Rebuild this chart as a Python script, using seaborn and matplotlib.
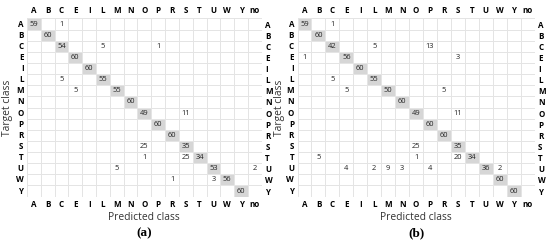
import numpy as np
import pandas as pd
import matplotlib
matplotlib.use("Agg")
import matplotlib.pyplot as plt
from matplotlib.colors import ListedColormap
import seaborn as sns

# class labels
target_classes = ["A", "B", "C", "E", "I", "L", "M", "N", "O", "P", "R", "S", "T", "U", "W", "Y"]
predicted_classes = target_classes + ["no"]

# non-zero counts per target row: {predicted: count}
counts_a = {
    "A": {"A": 59, "C": 1},
    "B": {"B": 60},
    "C": {"C": 54, "L": 5, "P": 1},
    "E": {"E": 60},
    "I": {"I": 60},
    "L": {"C": 5, "L": 55},
    "M": {"E": 5, "M": 55},
    "N": {"N": 60},
    "O": {"O": 49, "S": 11},
    "P": {"P": 60},
    "R": {"R": 60},
    "S": {"O": 25, "S": 35},
    "T": {"O": 1, "S": 25, "T": 34},
    "U": {"M": 5, "U": 53, "no": 2},
    "W": {"R": 1, "U": 3, "W": 56},
    "Y": {"Y": 60},
}
counts_b = {
    "A": {"A": 59, "C": 1},
    "B": {"B": 60},
    "C": {"C": 42, "L": 5, "P": 13},
    "E": {"A": 1, "E": 56, "S": 3},
    "I": {"I": 60},
    "L": {"C": 5, "L": 55},
    "M": {"E": 5, "M": 50, "R": 5},
    "N": {"N": 60},
    "O": {"O": 49, "S": 11},
    "P": {"P": 60},
    "R": {"R": 60},
    "S": {"O": 25, "S": 35},
    "T": {"B": 5, "O": 1, "S": 20, "T": 34},
    "U": {"E": 4, "L": 2, "M": 9, "N": 3, "P": 4, "U": 36, "W": 2},
    "W": {"W": 60},
    "Y": {"Y": 60},
}
panel_labels = ["(a)", "(b)"]

font = "Open Sans"
plt.rcParams["font.family"] = [font, "DejaVu Sans"]


def build(counts):
    df = pd.DataFrame(0, index=target_classes, columns=predicted_classes)
    for row, d in counts.items():
        for col, v in d.items():
            df.loc[row, col] = v
    return df


fig = plt.figure(figsize=(5.5, 2.43), dpi=100)
positions = [[0.049, 0.191, 0.427, 0.733], [0.541, 0.191, 0.431, 0.733]]
ylabel_x = [0.014, 0.509]

for pos, counts, plabel, yx in zip(positions, [counts_a, counts_b], panel_labels, ylabel_x):
    ax = fig.add_axes(pos)
    df = build(counts)
    shade = pd.DataFrame(0, index=df.index, columns=df.columns)
    for c in target_classes:
        shade.loc[c, c] = 1
    annot = df.map(lambda v: str(v) if v else "")
    sns.heatmap(shade, annot=annot, fmt="", cbar=False, ax=ax,
                cmap=ListedColormap(["white", "#d6d6d6"]), vmin=0, vmax=1,
                linewidths=0.6, linecolor="#e4e4e4",
                annot_kws={"fontsize": 5.4, "color": "#222222"})
    ax.tick_params(top=True, labeltop=True, bottom=True, labelbottom=True,
                   left=True, labelleft=True, right=True, labelright=True,
                   length=0, pad=2.5)
    ax.set_xticks(np.arange(len(predicted_classes)) + 0.5)
    ax.set_xticklabels(predicted_classes, fontsize=5.8, fontweight="bold", rotation=0)
    ax.set_yticks(np.arange(len(target_classes)) + 0.5)
    ax.set_yticklabels(target_classes, fontsize=5.8, fontweight="bold", rotation=0)
    ax.set_xlabel("Predicted class", fontsize=7.4, labelpad=2, color="#333333")
    ax.set_ylabel("")
    fig.text(yx, pos[1] + pos[3] / 2, "Target class", rotation=90, ha="center",
             va="center", fontsize=7.4, color="#333333")
    cx = pos[0] + pos[2] / 2
    fig.text(cx, 0.015, plabel, ha="center", va="bottom", fontsize=9.5,
             fontweight="bold", family="Liberation Serif")

fig.savefig("out.png", dpi=100)
